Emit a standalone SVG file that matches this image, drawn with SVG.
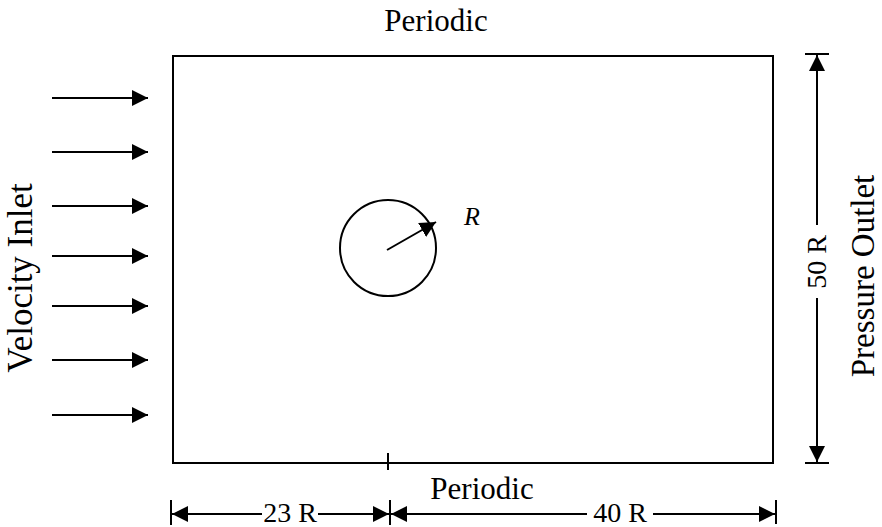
<svg xmlns="http://www.w3.org/2000/svg" width="882" height="527" viewBox="0 0 882 527">
<style>
.ln{stroke:#000;stroke-width:2;fill:none}
.t{font-family:"Liberation Serif","Times New Roman",serif;fill:#000}
</style>
<defs>
<marker id="ah" markerUnits="userSpaceOnUse" markerWidth="18" markerHeight="18" viewBox="0 0 18 18" refX="16" refY="9" orient="auto">
<path d="M0,1 L16,9 L0,17 Z" fill="#000"/>
</marker>
</defs>
<rect width="882" height="527" fill="#fff"/>
<g id="domain">
<rect x="173" y="56" width="600" height="407" class="ln"/>
<line x1="388" y1="453" x2="388" y2="470" class="ln"/>
</g>
<g id="cylinder">
<circle cx="388" cy="248" r="48" class="ln"/>
<line x1="387" y1="250" x2="436" y2="222" class="ln" marker-end="url(#ah)"/>
<text x="464" y="225" class="t" font-size="26" font-style="italic">R</text>
</g>
<g id="labels">
<text x="436" y="31" class="t" font-size="31" text-anchor="middle">Periodic</text>
<text x="482" y="499" class="t" font-size="31" text-anchor="middle">Periodic</text>
<text transform="translate(32,278) rotate(-90)" class="t" font-size="35" text-anchor="middle">Velocity Inlet</text>
<text transform="translate(874,276) rotate(-90)" class="t" font-size="33" text-anchor="middle">Pressure Outlet</text>
</g>
<g id="connectors">
<line x1="52" y1="98" x2="148" y2="98" class="ln" marker-end="url(#ah)"/>
<line x1="52" y1="152" x2="148" y2="152" class="ln" marker-end="url(#ah)"/>
<line x1="52" y1="206" x2="148" y2="206" class="ln" marker-end="url(#ah)"/>
<line x1="52" y1="256" x2="148" y2="256" class="ln" marker-end="url(#ah)"/>
<line x1="52" y1="306" x2="148" y2="306" class="ln" marker-end="url(#ah)"/>
<line x1="52" y1="360" x2="148" y2="360" class="ln" marker-end="url(#ah)"/>
<line x1="52" y1="415" x2="148" y2="415" class="ln" marker-end="url(#ah)"/>
</g>
<g id="dim-height">
<line x1="805" y1="54" x2="829" y2="54" class="ln"/>
<line x1="805" y1="463" x2="829" y2="463" class="ln"/>
<line x1="817" y1="225" x2="817" y2="55" class="ln" marker-end="url(#ah)"/>
<line x1="817" y1="298" x2="817" y2="462" class="ln" marker-end="url(#ah)"/>
<text transform="translate(826,262) rotate(-90)" class="t" font-size="28" text-anchor="middle">50 R</text>
</g>
<g id="dim-width">
<line x1="171" y1="500" x2="171" y2="525" class="ln"/>
<line x1="390" y1="500" x2="390" y2="525" class="ln"/>
<line x1="776" y1="500" x2="776" y2="524" class="ln"/>
<line x1="262" y1="514" x2="172" y2="514" class="ln" marker-end="url(#ah)"/>
<line x1="318" y1="514" x2="389" y2="514" class="ln" marker-end="url(#ah)"/>
<line x1="587" y1="514" x2="391" y2="514" class="ln" marker-end="url(#ah)"/>
<line x1="653" y1="514" x2="775" y2="514" class="ln" marker-end="url(#ah)"/>
<text x="290" y="522" class="t" font-size="28" text-anchor="middle">23 R</text>
<text x="620" y="522" class="t" font-size="28" text-anchor="middle">40 R</text>
</g>
</svg>
